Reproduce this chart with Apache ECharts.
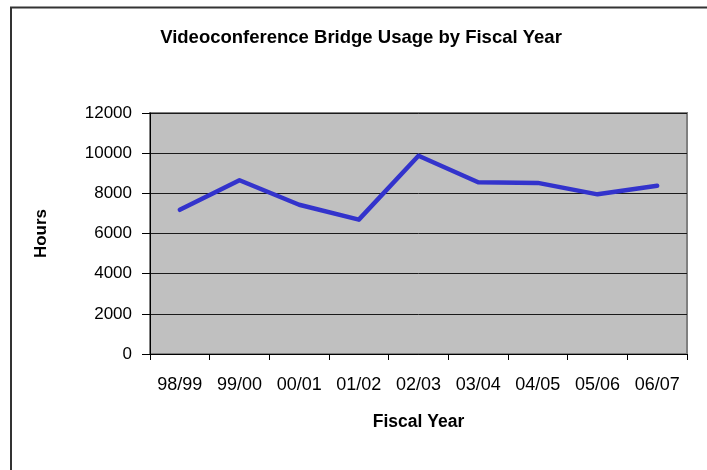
<!DOCTYPE html>
<html>
<head>
<meta charset="utf-8">
<script src="https://cdn.jsdelivr.net/npm/echarts@6/dist/echarts.min.js"></script>
<style>
  html, body { margin: 0; padding: 0; background: #fff; }
  #chart { width: 707px; height: 470px; }
</style>
</head>
<body>
<div id="chart"></div>
<script>
// Fiscal years and bridge hours
const fiscalYears = ['98/99', '99/00', '00/01', '01/02', '02/03', '03/04', '04/05', '05/06', '06/07'];
const bridgeHours = [7180, 8650, 7430, 6690, 9870, 8550, 8520, 7950, 8380];
const hourTicks = { min: 0, max: 12000, step: 2000 };

const chart = echarts.init(document.getElementById('chart'), null, { renderer: 'canvas' });
const font = '"Liberation Sans", Arial, sans-serif';

chart.setOption({
  animation: false,
  backgroundColor: '#ffffff',
  title: {
    text: 'Videoconference Bridge Usage by Fiscal Year',
    left: 356,
    top: 23,
    textAlign: 'center',
    textStyle: { fontFamily: font, fontSize: 18.5, fontWeight: 'bold', color: '#000' }
  },
  graphic: [{
    type: 'rect',
    shape: { x: 11, y: 7.5, width: 720, height: 480 },
    style: { fill: 'none', stroke: '#333', lineWidth: 2 },
    silent: true
  }],
  grid: {
    left: 150, top: 113, right: 20, bottom: 116,
    show: true,
    backgroundColor: '#c0c0c0',
    borderColor: '#808080',
    borderWidth: 2
  },
  xAxis: {
    type: 'category',
    data: fiscalYears,
    boundaryGap: true,
    name: 'Fiscal Year',
    nameLocation: 'middle',
    nameGap: 59,
    nameTextStyle: { fontFamily: font, fontSize: 17.5, fontWeight: 'bold', color: '#000' },
    axisLine: { show: true, lineStyle: { color: '#000', width: 1 } },
    axisTick: { show: true, alignWithLabel: false, length: 6, lineStyle: { color: '#000' } },
    axisLabel: { fontFamily: font, fontSize: 18, color: '#000', margin: 22 },
    splitLine: { show: false }
  },
  yAxis: {
    type: 'value',
    min: hourTicks.min,
    max: hourTicks.max,
    interval: hourTicks.step,
    name: 'Hours',
    nameLocation: 'middle',
    nameGap: 100,
    nameRotate: 90,
    nameTextStyle: { fontFamily: font, fontSize: 17, fontWeight: 'bold', color: '#000' },
    axisLine: { show: true, lineStyle: { color: '#000', width: 1 } },
    axisTick: { show: true, inside: false, length: 8, lineStyle: { color: '#000' } },
    axisLabel: {
      fontFamily: font, fontSize: 17, color: '#000', margin: 18,
      formatter: (v) => String(v)
    },
    splitLine: { show: true, lineStyle: { color: '#1a1a1a', width: 1 } }
  },
  series: [{
    type: 'line',
    data: bridgeHours,
    symbol: 'none',
    lineStyle: { color: '#3333cc', width: 4.5, join: 'round', cap: 'round' },
    z: 5
  }]
});
</script>
</body>
</html>
